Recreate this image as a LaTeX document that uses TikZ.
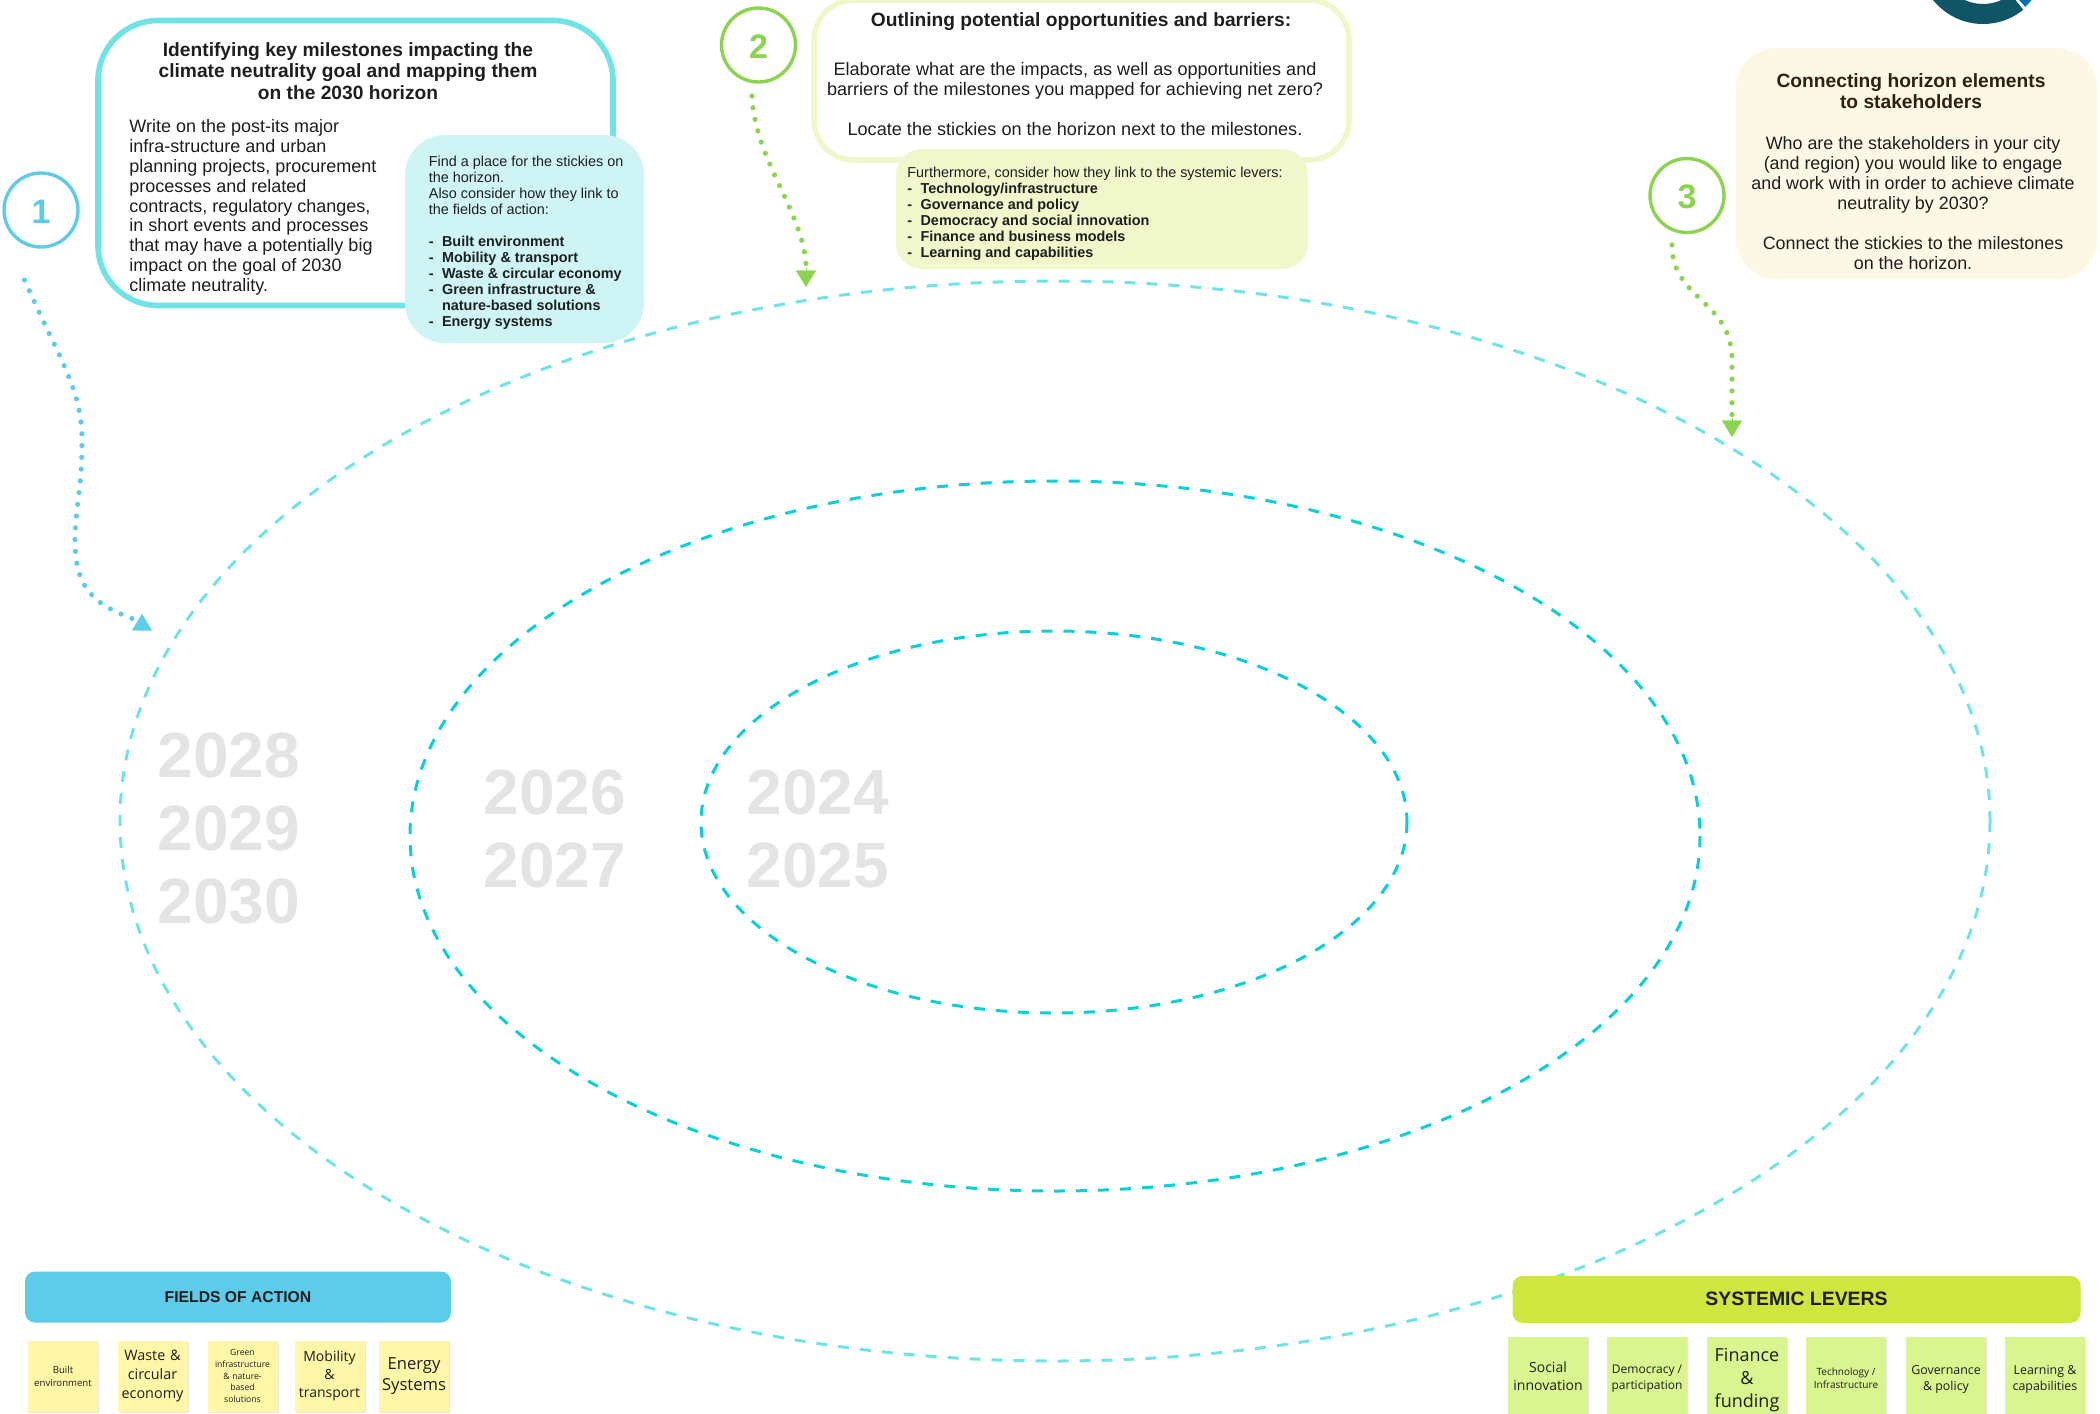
\documentclass[tikz,border=0pt]{standalone}
\usepackage{fontspec}
\setmainfont{Liberation Sans}
\newfontfamily\stickyfont{Open Sans}
\usetikzlibrary{arrows.meta,shadows}
\definecolor{fieldblue}{HTML}{5ECBE8}
\definecolor{ringcyan}{HTML}{6FE3E6}
\definecolor{horizoncyan}{HTML}{08CFD8}
\definecolor{palecyan}{HTML}{CFF4F6}
\definecolor{palelime}{HTML}{F0F7CA}
\definecolor{palecream}{HTML}{FDF8E6}
\definecolor{stepgreen}{HTML}{8CD44F}
\definecolor{leverlime}{HTML}{CFE63F}
\definecolor{stickyyellow}{HTML}{FFF6A8}
\definecolor{stickygreen}{HTML}{D8F58F}
\definecolor{yeargray}{HTML}{E4E4E4}
\definecolor{logoteal}{HTML}{105565}
\definecolor{logoblue}{HTML}{0A6EB0}
\definecolor{inktext}{HTML}{1E1E1E}
\newcommand{\fsize}[2]{\fontsize{#1}{#2}\selectfont}
\newcommand{\listrow}[1]{\makebox[6.6pt][l]{\textbf{-}}\textbf{#1}}
\newcommand{\stepdigit}[1]{\raisebox{-6.7pt}[0pt][0pt]{#1}}
\tikzset{
	stepcircle/.style={circle, draw=#1, line width=1.7pt, text=#1, fill=white, minimum size=37pt, inner sep=0pt, font=\fsize{17}{20}\bfseries},
	framebox/.style={rectangle, rounded corners=30pt, draw=#1, line width=2.8pt, fill=white},
	softbox/.style={rectangle, rounded corners=20pt, fill=#1, text=inktext},
	headbar/.style={rectangle, rounded corners=5pt, fill=#1, text=inktext},
	sticky/.style={rectangle, fill=#1, text=inktext, align=center, inner sep=0pt, text width=33pt, drop shadow={shadow xshift=0.5pt, shadow yshift=-0.5pt, opacity=0.2}},
	bodytext/.style={text=inktext, inner sep=0pt, align=#1},
	yearlabel/.style={text=yeargray, align=center, inner sep=0pt, font=\fsize{32}{36.5}\bfseries},
	stepdots/.style={draw=#1, line width=2.6pt, line cap=round, dash pattern=on 0pt off 5.9pt},
	stephead/.style={draw=#1, line width=0.1pt, -{Triangle[length=8.2pt,width=10pt,fill=#1]}},
	farring/.style={draw=ringcyan, line width=1.5pt, dash pattern=on 5.5pt off 5.5pt},
	nearring/.style={draw=horizoncyan, line width=1.5pt, dash pattern=on 5.5pt off 5.5pt}
}
\begin{document}
\begin{tikzpicture}[x=0.5pt,y=-0.5pt]
	\useasboundingbox (0,0) rectangle (2100,1414);
	\clip (0,0) rectangle (2100,1414);
	% horizons
	\draw[farring] (1055,821) circle[x radius=935, y radius=540];
	\draw[nearring] (1055,836) circle[x radius=645, y radius=355];
	\draw[nearring] (1054,822) circle[x radius=353, y radius=191];
	\node[yearlabel] (yearsfar) at (229,828.5) {2028\\2029\\2030};
	\node[yearlabel] (yearsmid) at (555,828.5) {2026\\2027};
	\node[yearlabel] (yearsnear) at (818,828.5) {2024\\2025};
	% logo corner
	\fill[logoteal] (1983,-40) ++(51:64) arc[start angle=51, end angle=150, radius=64] -- ++(150:-20) arc[start angle=150, end angle=51, radius=44] -- cycle;
	\fill[logoblue] (1983,-40) ++(48:63) arc[start angle=48, end angle=20, radius=63] -- ++(20:-20) arc[start angle=20, end angle=48, radius=43] -- cycle;
	% step 1
	\node[framebox=ringcyan, minimum width=257.5pt, minimum height=142.5pt] (onebox) at (355.5,163) {};
	\node[bodytext=center, font=\fsize{9.6}{10.8}\bfseries] (onetitle) at (348,71) {Identifying key milestones impacting the\\climate neutrality goal and mapping them\\on the 2030 horizon};
	\node[bodytext=left, anchor=north west, font=\fsize{9}{9.9}] (onetext) at (129,119.4) {Write on the post-its major\\infra-structure and urban\\planning projects, procurement\\processes and related\\contracts, regulatory changes,\\in short events and processes\\that may have a potentially big\\impact on the goal of 2030\\climate neutrality.};
	\node[softbox=palecyan, minimum width=119.5pt, minimum height=104pt] (onefields) at (524.5,239) {};
	\node[bodytext=left, anchor=north west, font=\fsize{7.2}{8}] (onelist) at (428.5,156) {Find a place for the stickies on\\the horizon.\\Also consider how they link to\\the fields of action:\\[8pt]\listrow{Built environment}\\\listrow{Mobility \& transport}\\\listrow{Waste \& circular economy}\\\listrow{Green infrastructure \&}\\\hspace*{6.6pt}\textbf{nature-based solutions}\\\listrow{Energy systems}};
	\node[stepcircle=fieldblue] (onestep) at (41,210) {\stepdigit{1}};
	\coordinate (onestart) at (24.5,280);
	\coordinate (oneend) at (136,620);
	\coordinate (onebase) at (142,630);
	\coordinate (onetip) at (142,614);
	\draw[stepdots=fieldblue] (onestart) .. controls (60,360) and (82,390) .. (82,440) .. controls (82,490) and (75,510) .. (75,540) .. controls (75,590) and (95,605) .. (oneend);
	\draw[stephead=fieldblue] (onebase) -- (onetip);
	% step 2
	\node[framebox=palelime, rounded corners=20pt, minimum width=267.5pt, minimum height=80pt] (twobox) at (1081.5,80) {};
	\node[bodytext=center, font=\fsize{9.6}{11}\bfseries] (twotitle) at (1081,21.5) {Outlining potential opportunities and barriers:};
	\node[bodytext=center, font=\fsize{9.05}{10.2}] (twotext) at (1075,99) {Elaborate what are the impacts, as well as opportunities and\\barriers of the milestones you mapped for achieving net zero?\\[10pt]Locate the stickies on the horizon next to the milestones.};
	\node[softbox=palelime, rounded corners=13pt, minimum width=206pt, minimum height=60pt] (twolevers) at (1102,209) {};
	\node[bodytext=left, anchor=north west, font=\fsize{7.2}{8}] (twolist) at (907,167) {Furthermore, consider how they link to the systemic levers:\\\listrow{Technology/infrastructure}\\\listrow{Governance and policy}\\\listrow{Democracy and social innovation}\\\listrow{Finance and business models}\\\listrow{Learning and capabilities}};
	\node[stepcircle=stepgreen] (twostep) at (758.5,45) {\stepdigit{2}};
	\coordinate (twostart) at (752,96);
	\coordinate (twotip) at (806,287);
	\draw[stepdots=stepgreen] (twostart) .. controls (755,160) and (802,210) .. (806,264);
	\draw[stephead=stepgreen] (806,268) -- (twotip);
	% step 3
	\node[softbox=palecream, minimum width=180.5pt, minimum height=115.5pt] (threebox) at (1916.5,163.5) {};
	\node[bodytext=center, text=black!75!brown, font=\fsize{9.6}{10.5}\bfseries] (threetitle) at (1911,91.5) {Connecting horizon elements\\to stakeholders};
	\node[bodytext=center, font=\fsize{8.95}{10}] (threetext) at (1913,203) {Who are the stakeholders in your city\\(and region) you would like to engage\\and work with in order to achieve climate\\neutrality by 2030?\\[10pt]Connect the stickies to the milestones\\on the horizon.};
	\node[stepcircle=stepgreen] (threestep) at (1687,195.5) {\stepdigit{3}};
	\coordinate (threestart) at (1672,245);
	\coordinate (threetip) at (1732,437);
	\draw[stepdots=stepgreen] (threestart) .. controls (1672,300) and (1732,300) .. (1732,360) -- (1732,415);
	\draw[stephead=stepgreen] (1732,418) -- (threetip);
	% fields of action
	\node[headbar=fieldblue, minimum width=213pt, minimum height=25.5pt, font=\fsize{7.85}{9}\bfseries] (fieldshead) at (238,1297) {\raisebox{-0.8pt}{FIELDS OF ACTION}};
	\node[sticky=stickyyellow, minimum width=35pt, minimum height=35.5pt, font=\stickyfont\fsize{4.8}{6.5}] (builtsticky) at (63,1376) {Built\\environment};
	\node[sticky=stickyyellow, minimum width=35pt, minimum height=35.5pt, font=\stickyfont\fsize{7.2}{9.5}] (wastesticky) at (152.5,1376) {\raisebox{-0.6pt}{Waste \&}\\\raisebox{-0.6pt}{circular}\\\raisebox{-0.6pt}{economy}};
	\node[sticky=stickyyellow, minimum width=35pt, minimum height=35.5pt, font=\stickyfont\fsize{4.3}{5.8}] (greensticky) at (242.5,1376) {Green\\infrastructure\\\& nature-\\based\\solutions};
	\node[sticky=stickyyellow, minimum width=35pt, minimum height=35.5pt, font=\stickyfont\fsize{7}{9}] (mobilitysticky) at (329.5,1376) {\raisebox{-0.6pt}{Mobility}\\\raisebox{-0.6pt}{\&}\\\raisebox{-0.6pt}{transport}};
	\node[sticky=stickyyellow, minimum width=35pt, minimum height=35.5pt, font=\stickyfont\fsize{8.3}{10.7}] (energysticky) at (414,1376) {\raisebox{-0.6pt}{Energy}\\\raisebox{-0.6pt}{Systems}};
	% systemic levers
	\node[headbar=leverlime, minimum width=284pt, minimum height=23.5pt, font=\fsize{9.7}{11}\bfseries] (leverhead) at (1796.5,1299.3) {\raisebox{-2pt}{SYSTEMIC LEVERS}};
	\node[sticky=stickygreen, minimum width=40pt, minimum height=45pt] (socialsticky) at (1548,1382) {};
	\node[sticky=stickygreen, minimum width=40pt, minimum height=45pt] (democracysticky) at (1647,1382) {};
	\node[sticky=stickygreen, minimum width=40pt, minimum height=45pt] (financesticky) at (1747,1382) {};
	\node[sticky=stickygreen, minimum width=40pt, minimum height=45pt] (techsticky) at (1846,1382) {};
	\node[sticky=stickygreen, minimum width=40pt, minimum height=45pt] (governsticky) at (1946,1382) {};
	\node[sticky=stickygreen, minimum width=40pt, minimum height=45pt] (learnsticky) at (2045,1382) {};
	\node[bodytext=center, font=\stickyfont\fsize{7}{9}] (socialtext) at (1548,1376.5) {Social\\innovation};
	\node[bodytext=center, font=\stickyfont\fsize{6}{8}] (democracytext) at (1647,1378.5) {Democracy /\\participation};
	\node[bodytext=center, font=\stickyfont\fsize{9}{11.4}] (financetext) at (1747,1380) {Finance\\\&\\funding};
	\node[bodytext=center, font=\stickyfont\fsize{5}{6.6}] (techtext) at (1846,1378.5) {Technology /\\Infrastructure};
	\node[bodytext=center, font=\stickyfont\fsize{6.2}{8}] (governtext) at (1946,1379) {Governance\\\& policy};
	\node[bodytext=center, font=\stickyfont\fsize{6.2}{8.4}] (learntext) at (2045,1379.5) {Learning \&\\capabilities};
\end{tikzpicture}
\end{document}
